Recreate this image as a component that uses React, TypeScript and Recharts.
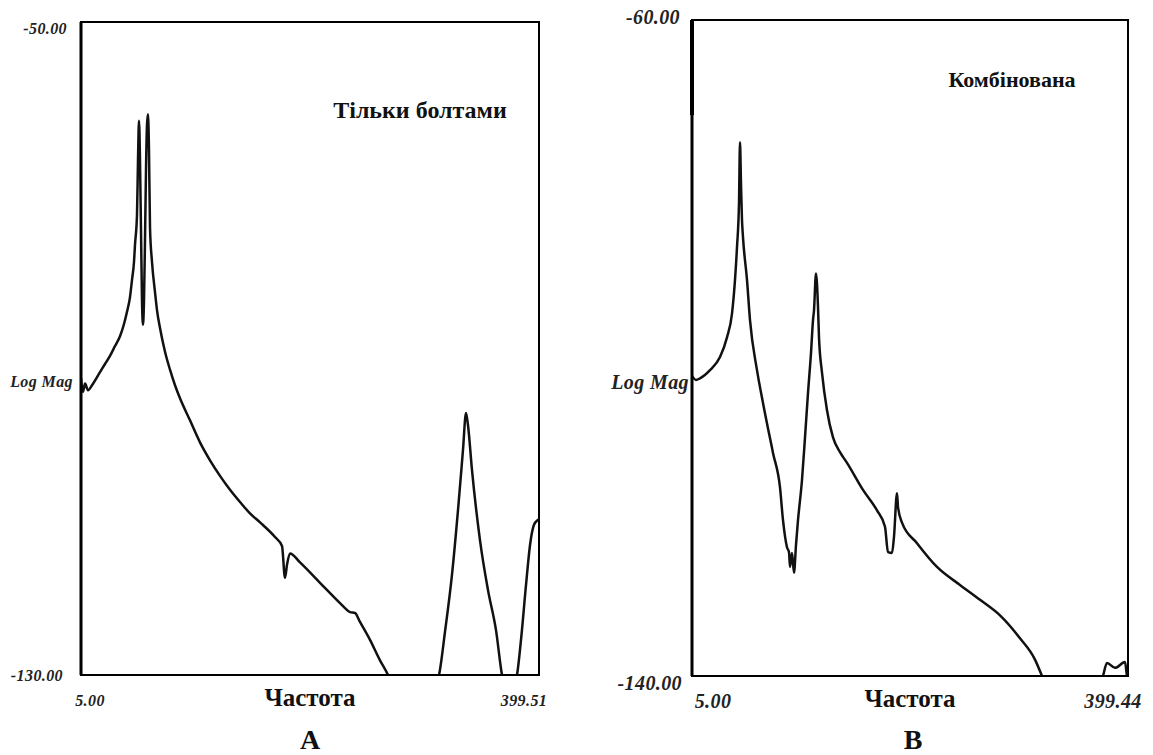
import { LineChart, Line, XAxis, YAxis, ReferenceArea, ReferenceLine } from "recharts";

const serif = '"Liberation Serif", "Times New Roman", serif';

// Panel A: "Тільки болтами"
const freqA = [
  5.0, 6.72, 8.45, 11.03, 14.48, 21.37, 25.67, 29.98, 34.29, 38.59, 42.04, 44.62, 47.21, 48.93,
  50.65, 51.51, 53.24, 54.1, 54.96, 55.82, 56.68, 57.54, 58.4, 59.27, 60.13, 60.99, 61.85, 62.71,
  63.57, 64.44, 66.16, 68.74, 70.46, 73.05, 77.36, 81.66, 85.97, 90.28, 98.89, 107.5, 116.12,
  124.73, 133.35, 141.96, 150.57, 159.19, 172.11, 178.14, 180.72, 182.44, 185.03, 193.64, 210.87,
  228.1, 232.4, 236.71, 241.0, 245.32, 253.94, 262.55, 269.44, 272.89, 309.93, 313.38, 318.54,
  324.57, 329.74, 334.05, 336.63, 338.35, 341.8, 348.69, 355.58, 362.47, 367.64, 369.36, 377.97,
  380.56, 384.0, 388.31, 391.76, 395.2, 398.65, 399.51,
];
const magA = [
  -93.6, -95.3, -94.3, -95.1, -94.5, -92.9, -91.9, -90.9, -89.7, -88.5, -87.0, -85.5, -83.7, -81.6,
  -79.4, -77.3, -73.6, -66.9, -62.1, -66.9, -75.5, -84.1, -87.1, -84.1, -76.7, -68.1, -62.6, -61.3,
  -65.7, -75.2, -79.4, -83.1, -85.3, -87.5, -90.4, -92.6, -94.5, -96.1, -98.8, -101.5, -103.7,
  -105.6, -107.3, -108.8, -110.2, -111.3, -113.1, -114.2, -118.1, -116.5, -115.1, -116.2, -118.7,
  -121.2, -121.8, -122.3, -122.4, -123.5, -125.7, -128.2, -130.0, -131.2, -131.2, -130.0, -124.7,
  -117.7, -109.8, -102.4, -97.9, -99.4, -104.9, -113.5, -119.6, -124.5, -130.0, -131.2, -131.2,
  -130.0, -125.7, -119.0, -114.1, -111.6, -111.0, -110.9,
];

// Panel B: "Комбінована"
const freqB = [
  5.0, 8.6, 12.24, 21.28, 30.33, 36.66, 41.19, 43.9, 45.71, 47.52, 48.42, 49.33, 50.23, 51.14,
  54.76, 57.47, 63.8, 69.23, 78.28, 84.61, 87.33, 90.94, 92.75, 93.66, 95.47, 97.28, 99.09, 100.9,
  104.51, 107.23, 109.94, 112.66, 114.47, 115.37, 117.18, 118.99, 119.89, 122.61, 127.13, 132.56,
  138.89, 145.23, 159.7, 172.37, 179.6, 182.32, 185.94, 187.75, 190.46, 191.37, 194.98, 208.55,
  226.65, 247.45, 265.55, 283.64, 301.73, 315.3, 321.64, 325.26, 374.11, 376.82, 380.44, 387.68,
  396.72, 398.53, 399.44,
];
const magB = [
  -103.4, -103.9, -103.7, -102.7, -101.1, -98.7, -95.8, -91.7, -87.7, -82.3, -74.9, -80.0, -84.4,
  -86.5, -91.7, -96.6, -102.7, -106.7, -112.8, -117.0, -121.0, -124.3, -124.9, -126.7, -125.0,
  -127.4, -124.0, -121.0, -116.1, -110.9, -105.5, -100.6, -96.6, -95.4, -90.9, -95.0, -98.7,
  -103.0, -107.6, -110.9, -112.7, -114.0, -117.3, -119.8, -121.8, -124.9, -125.0, -123.0, -117.7,
  -119.4, -121.3, -123.8, -126.7, -128.9, -130.7, -132.6, -135.4, -138.0, -140.0, -141.2, -141.2,
  -140.0, -138.4, -139.0, -138.3, -140.0, -140.5,
];

const xTicksA = [5, 399.51];
const xLabelsA = ["5.00", "399.51"];
const yTicksA = [-130, -50];
const yLabelsA = ["-130.00", "-50.00"];

const xTicksB = [5, 399.44];
const xLabelsB = ["5.00", "399.44"];
const yTicksB = [-140, -60];
const yLabelsB = ["-140.00", "-60.00"];

type PanelProps = {
  freq: number[];
  mag: number[];
  xTicks: number[];
  xLabels: string[];
  yTicks: number[];
  yLabels: string[];
  left: number;
  width: number;
  margin: { top: number; right: number; bottom: number; left: number };
  yAxisWidth: number;
  tickFont: number;
  xTickDx: number[];
  yTickDx: number[];
  yTickDy: number[];
  logMagDx: number;
  logMagDy: number;
  edge?: number;
};

function Panel(p: PanelProps) {
  const data = p.freq.map((f, i) => ({ f, v: p.mag[i] }));
  const [x0, x1] = [p.xTicks[0], p.xTicks[1]];
  const [y0, y1] = [p.yTicks[0], p.yTicks[1]];
  const tickStyle = {
    fontFamily: serif,
    fontWeight: 700,
    fontStyle: "italic",
    fontSize: p.tickFont,
    letterSpacing: 0.4,
    fill: "#222",
  };

  return (
    <div style={{ position: "absolute", left: p.left, top: 0 }}>
      <LineChart width={p.width} height={755} data={data} margin={p.margin}>
        <XAxis
          dataKey="f"
          type="number"
          domain={[x0, x1]}
          ticks={p.xTicks}
          allowDataOverflow
          height={40}
          tickLine={false}
          axisLine={{ stroke: "#000", strokeWidth: 2 }}
          tick={(t: any) => (
            <text x={t.x + p.xTickDx[t.index]} y={t.y + 17} textAnchor="middle" dominantBaseline="central" style={tickStyle}>
              {p.xLabels[t.index]}
            </text>
          )}
          label={{
            content: (l: any) => (
              <text
                x={l.viewBox.x + l.viewBox.width / 2}
                y={l.viewBox.y + 22}
                textAnchor="middle"
                dominantBaseline="central"
                style={{ fontFamily: serif, fontWeight: 700, fontSize: 25, fill: "#111" }}
              >
                Частота
              </text>
            ),
          }}
        />
        <YAxis
          type="number"
          domain={[y0, y1]}
          ticks={p.yTicks}
          allowDataOverflow
          width={p.yAxisWidth}
          tickLine={false}
          axisLine={{ stroke: "#000", strokeWidth: 3 }}
          tick={(t: any) => (
            <text x={t.x + p.yTickDx[t.index]} y={t.y + p.yTickDy[t.index]} textAnchor="end" dominantBaseline="central" style={tickStyle}>
              {p.yLabels[t.index]}
            </text>
          )}
          label={{
            content: (l: any) => (
              <text
                x={l.viewBox.x + l.viewBox.width + p.logMagDx}
                y={l.viewBox.y + l.viewBox.height / 2 + p.logMagDy}
                textAnchor="end"
                dominantBaseline="central"
                style={tickStyle}
              >
                Log Mag
              </text>
            ),
          }}
        />
        <ReferenceArea x1={x0} x2={x1} y1={y0} y2={y1} fill="none" stroke="#000" strokeWidth={2} />
        {p.edge !== undefined && (
          <ReferenceLine segment={[{ x: x0, y: y1 }, { x: x0, y: p.edge }]} stroke="#000" strokeWidth={4} />
        )}
        <Line dataKey="v" type="monotone" stroke="#111" strokeWidth={2.5} dot={false} isAnimationActive={false} />
      </LineChart>
    </div>
  );
}

const caption = {
  position: "absolute" as const,
  fontFamily: serif,
  fontWeight: 700,
  color: "#111",
  transform: "translate(-50%, -50%)",
  whiteSpace: "nowrap" as const,
};

export default function App() {
  return (
    <div style={{ position: "absolute", left: 0, top: 0, width: 1153, height: 755, background: "#fff", overflow: "hidden" }}>
      <Panel
        freq={freqA}
        mag={magA}
        xTicks={xTicksA}
        xLabels={xLabelsA}
        yTicks={yTicksA}
        yLabels={yLabelsA}
        left={0}
        width={560}
        margin={{ top: 22, right: 21, bottom: 40, left: 11 }}
        yAxisWidth={70}
        tickFont={16}
        xTickDx={[9, -14]}
        yTickDx={[-10, -6]}
        yTickDy={[0, 6]}
        logMagDx={-8}
        logMagDy={33}
      />
      <Panel
        freq={freqB}
        mag={magB}
        xTicks={xTicksB}
        xLabels={xLabelsB}
        yTicks={yTicksB}
        yLabels={yLabelsB}
        left={580}
        width={573}
        margin={{ top: 20, right: 25, bottom: 39, left: 22 }}
        yAxisWidth={90}
        tickFont={20}
        xTickDx={[21, -15]}
        yTickDx={[-2, -4]}
        yTickDy={[7, -3]}
        logMagDx={-3}
        logMagDy={34}
        edge={-71.6}
      />
      <div style={{ ...caption, left: 420, top: 110, fontSize: 24 }}>Тільки болтами</div>
      <div style={{ ...caption, left: 1012, top: 80, fontSize: 22 }}>Комбінована</div>
      <div style={{ ...caption, left: 310, top: 740, fontSize: 28 }}>A</div>
      <div style={{ ...caption, left: 913, top: 740, fontSize: 28 }}>B</div>
    </div>
  );
}
